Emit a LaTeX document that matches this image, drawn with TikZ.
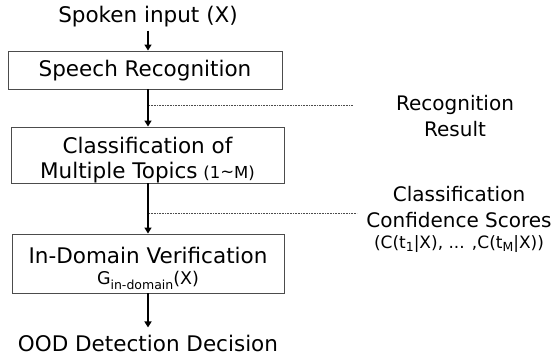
\documentclass[tikz,border=0pt]{standalone}
\usepackage{fontspec}
\setmainfont{DejaVu Sans}
\usetikzlibrary{arrows.meta}
\tikzset{
  stage/.style={draw=black!70, line width=0.9pt, inner sep=0pt},
  label/.style={inner sep=0pt, align=center, font=\fontsize{21.5}{27}\selectfont},
  sidelabel/.style={inner sep=0pt, align=center, font=\fontsize{20}{27}\selectfont},
  flow/.style={line width=1.6pt, -{Triangle[width=7pt,length=6pt]}},
  tap/.style={black!70, line width=0.8pt, dash pattern=on 0.8pt off 0.8pt}
}
\newcommand{\smallfs}{\fontsize{16.5}{18}\selectfont}
\newcommand{\tinyfs}{\fontsize{12.5}{13}\selectfont}
\begin{document}
\begin{tikzpicture}[x=1pt,y=-1pt]
  \useasboundingbox (0,0) rectangle (558,364);
  \coordinate (axis) at (148,0);

  % stage boxes
  \node[stage, minimum width=274pt, minimum height=38pt] (sr) at (145,70) {};
  \node[stage, minimum width=273pt, minimum height=56pt] (cls) at (147.5,155) {};
  \node[stage, minimum width=272pt, minimum height=59pt] (ver) at (148,263.5) {};

  % texts of the chain
  \node[label] (input) at (148,17) {Spoken input (X)};
  \node[label] (srtxt) at (145,71) {Speech Recognition};
  \node[label, anchor=base] (clstxt1) at (147.5,153) {Classification of};
  \node[label, anchor=base] (clstxt2) at (147.5,178)
    {Multiple Topics\hspace{-1pt} {\smallfs (1\raisebox{1pt}{\textasciitilde}M)}};
  \node[label, anchor=base] (vertxt1) at (148,263) {In-Domain Verification};
  \node[label, anchor=base, font=\fontsize{17.5}{18}\selectfont] (vertxt2) at (148,284)
    {G\raisebox{-5pt}{\tinyfs in-domain}(X)};
  \node[label] (ood) at (148,343) {OOD Detection Decision};

  \draw[flow] (input.south -| axis) ++(0,3) -- (sr.north -| axis);
  \draw[flow] (sr.south -| axis) -- (cls.north -| axis);
  \draw[flow] (cls.south -| axis) -- (ver.north -| axis);
  \draw[flow] (ver.south -| axis) -- ++(0,34) coordinate (oodtop);

  % side taps
  \coordinate (t1s) at (149,105);
  \coordinate (t1e) at (353,105);
  \coordinate (t2s) at (149,213);
  \coordinate (t2e) at (357,213);
  \draw[tap] (t1s) -- (t1e);
  \draw[tap] (t2s) -- (t2e);

  \node[sidelabel] (recres) at (455,116) {Recognition\\[-1pt] Result};
  \node[sidelabel] (conf) at (459,207) {Classification\\[-1pt] Confidence Scores};
  \node[label, font=\fontsize{17}{18}\selectfont] (scores) at (459,244)
    {(C(t\raisebox{-3pt}{\tinyfs 1}|X), ... ,C(t\raisebox{-3pt}{\tinyfs M}|X))};
\end{tikzpicture}
\end{document}
